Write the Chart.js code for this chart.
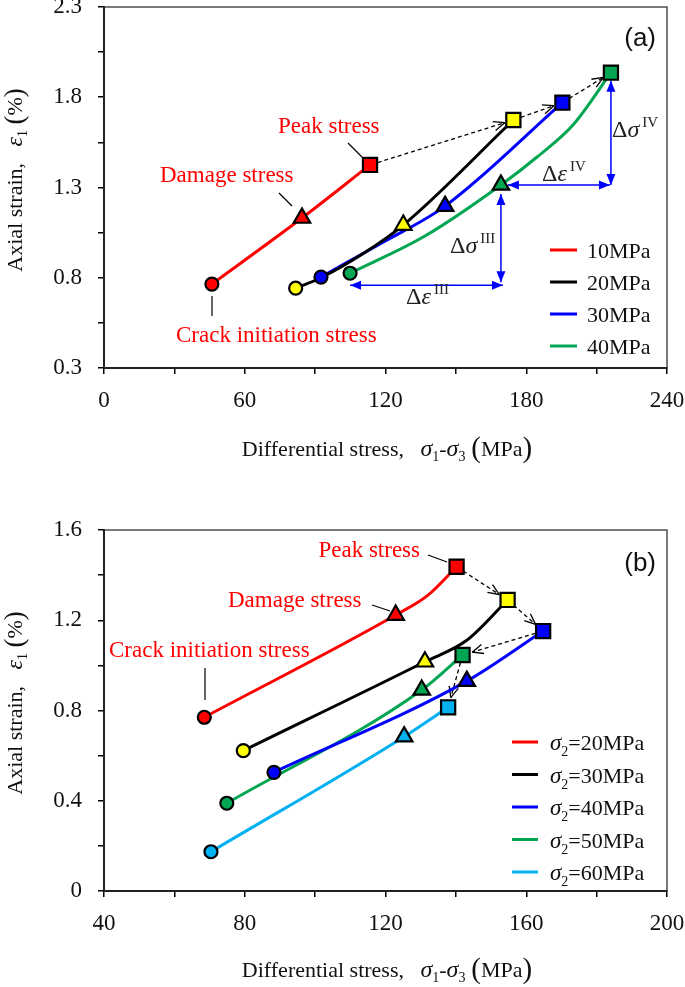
<!doctype html>
<html lang="en">

<head>
    <meta charset="utf-8">
    <title>Axial strain vs differential stress</title>
    <style>
        * {
            margin: 0;
            padding: 0;
        }

        body {
            width: 685px;
            height: 987px;
            overflow: hidden;
            background: #fff;
            position: relative;
        }

        .panel {
            position: absolute;
            left: 0;
            width: 720px;
        }

        #boxA {
            top: -40px;
            height: 530px;
        }

        #boxB {
            top: 490px;
            height: 497px;
        }
    </style>
</head>

<body>
    <div class="panel" id="boxA"><canvas id="chartA"></canvas></div>
    <div class="panel" id="boxB"><canvas id="chartB"></canvas></div>

    <script src="https://cdn.jsdelivr.net/npm/chart.js"></script>

    <script>
        // ---------- panel (a): 4 series ----------
        const aNames = ['10MPa', '20MPa', '30MPa', '40MPa'];
        const aLine = ['#ff0000', '#000000', '#0000ff', '#00a651'];
        const aFill = ['#ff0000', '#ffff00', '#0000ff', '#00a651'];

        const aStress10 = [46.0, 84.4, 113.4];
        const aStrain10 = [0.765, 1.131, 1.425];
        const aStress20 = [81.7, 92.5, 110.0, 127.6, 174.5];
        const aStrain20 = [0.742, 0.800, 0.930, 1.092, 1.674];
        const aStress30 = [92.5, 118.0, 145.4, 195.4];
        const aStrain30 = [0.804, 0.990, 1.197, 1.770];
        const aStress40 = [104.9, 136.8, 169.2, 184.6, 199.9, 216.1];
        const aStrain40 = [0.825, 1.031, 1.314, 1.469, 1.646, 1.936];

        // crack initiation / damage / peak stress points (one per series)
        const aCrackStress = [46.0, 81.7, 92.5, 104.9];
        const aCrackStrain = [0.765, 0.742, 0.804, 0.825];
        const aDamageStress = [84.4, 127.6, 145.4, 169.2];
        const aDamageStrain = [1.131, 1.092, 1.197, 1.314];
        const aPeakStress = [113.4, 174.5, 195.4, 216.1];
        const aPeakStrain = [1.425, 1.674, 1.770, 1.936];

        const aXTicks = [0, 30, 60, 90, 120, 150, 180, 210, 240];
        const aYTicks = [0.3, 0.55, 0.8, 1.05, 1.3, 1.55, 1.8, 2.05, 2.3];

        // ---------- panel (b): 5 series ----------
        const bNames = ['=20MPa', '=30MPa', '=40MPa', '=50MPa', '=60MPa'];
        const bLine = ['#ff0000', '#000000', '#0000ff', '#00a651', '#00b0f0'];
        const bFill = ['#ff0000', '#ffff00', '#0000ff', '#00a651', '#00b0f0'];

        const bStress20 = [68.5, 122.9, 132.0, 140.2];
        const bStrain20 = [0.770, 1.223, 1.310, 1.437];
        const bStress30 = [79.6, 131.2, 143.0, 154.7];
        const bStrain30 = [0.622, 1.016, 1.110, 1.290];
        const bStress40 = [88.3, 143.1, 164.8];
        const bStrain40 = [0.526, 0.930, 1.152];
        const bStress50 = [74.9, 130.3, 141.9];
        const bStrain50 = [0.389, 0.891, 1.046];
        const bStress60 = [70.4, 125.3, 137.8];
        const bStrain60 = [0.174, 0.684, 0.814];

        const bCrackStress = [68.5, 79.6, 88.3, 74.9, 70.4];
        const bCrackStrain = [0.770, 0.622, 0.526, 0.389, 0.174];
        const bDamageStress = [122.9, 131.2, 143.1, 130.3, 125.3];
        const bDamageStrain = [1.223, 1.016, 0.930, 0.891, 0.684];
        const bPeakStress = [140.2, 154.7, 164.8, 141.9, 137.8];
        const bPeakStrain = [1.437, 1.290, 1.152, 1.046, 0.814];

        const bXTicks = [40, 60, 80, 100, 120, 140, 160, 180, 200];
        const bYTicks = [0, 0.2, 0.4, 0.6, 0.8, 1.0, 1.2, 1.4, 1.6];

        const SERIF = '"Liberation Serif", "Times New Roman", serif';
        const SANS = '"Liberation Sans", Arial, sans-serif';

        const pts = (xs, ys) => xs.map((x, i) => ({ x: x, y: ys[i] }));

        function lineSet(xs, ys, color) {
            return {
                data: pts(xs, ys),
                showLine: true,
                borderColor: color,
                borderWidth: 3,
                pointRadius: 0,
                cubicInterpolationMode: 'monotone',
                order: 2
            };
        }

        function markSet(xs, ys, fills, style, r) {
            return {
                data: pts(xs, ys),
                showLine: false,
                pointStyle: style,
                pointRadius: r,
                pointBackgroundColor: fills,
                pointBorderColor: '#000',
                pointBorderWidth: 2.2,
                order: 0
            };
        }

        // draw a run of text pieces: [text, font, dy]
        function rich(ctx, parts, x, y, align) {
            let w = 0;
            parts.forEach(p => { ctx.font = p[1]; w += ctx.measureText(p[0]).width; });
            let cx = align === 'center' ? x - w / 2 : (align === 'right' ? x - w : x);
            ctx.textAlign = 'left';
            ctx.textBaseline = 'alphabetic';
            parts.forEach(p => {
                ctx.font = p[1];
                ctx.fillText(p[0], cx, y + (p[2] || 0));
                cx += ctx.measureText(p[0]).width;
            });
        }

        function seg(ctx, x1, y1, x2, y2) {
            ctx.beginPath();
            ctx.moveTo(x1, y1);
            ctx.lineTo(x2, y2);
            ctx.stroke();
        }

        function dashArrow(ctx, x1, y1, x2, y2, cut1, cut2) {
            const a = Math.atan2(y2 - y1, x2 - x1);
            const sx = x1 + Math.cos(a) * cut1, sy = y1 + Math.sin(a) * cut1;
            const ex = x2 - Math.cos(a) * cut2, ey = y2 - Math.sin(a) * cut2;
            ctx.save();
            ctx.strokeStyle = '#000';
            ctx.lineWidth = 1.3;
            ctx.setLineDash([4, 3]);
            seg(ctx, sx, sy, ex, ey);
            ctx.setLineDash([]);
            seg(ctx, ex, ey, ex - Math.cos(a - 0.4) * 12, ey - Math.sin(a - 0.4) * 12);
            seg(ctx, ex, ey, ex - Math.cos(a + 0.4) * 12, ey - Math.sin(a + 0.4) * 12);
            ctx.restore();
        }

        function head(ctx, x, y, a) {
            ctx.beginPath();
            ctx.moveTo(x, y);
            ctx.lineTo(x - Math.cos(a) * 11 - Math.sin(a) * 4.5, y - Math.sin(a) * 11 + Math.cos(a) * 4.5);
            ctx.lineTo(x - Math.cos(a) * 11 + Math.sin(a) * 4.5, y - Math.sin(a) * 11 - Math.cos(a) * 4.5);
            ctx.closePath();
            ctx.fill();
        }

        function dimArrow(ctx, x1, y1, x2, y2) {
            const a = Math.atan2(y2 - y1, x2 - x1);
            ctx.save();
            ctx.strokeStyle = '#0000ff';
            ctx.fillStyle = '#0000ff';
            ctx.lineWidth = 1.5;
            seg(ctx, x1, y1, x2, y2);
            head(ctx, x2, y2, a);
            head(ctx, x1, y1, a + Math.PI);
            ctx.restore();
        }

        function greekLabel(ctx, sym, sup, x, y) {
            ctx.fillStyle = '#222';
            rich(ctx, [['\u0394', '24px ' + SERIF], [sym, 'italic 24px ' + SERIF], ['\u2009' + sup, '15px ' + SERIF, -10]], x, y, 'left');
        }

        function frame(ctx, area) {
            ctx.save();
            ctx.strokeStyle = '#333';
            ctx.lineWidth = 1.3;
            ctx.strokeRect(area.left, area.top, area.right - area.left, area.bottom - area.top);
            ctx.restore();
        }

        function axisTitles(ctx, xBase, yMid) {
            ctx.fillStyle = '#111';
            rich(ctx, [
                ['Differential stress,   ', '22px ' + SERIF],
                ['\u03c3', 'italic 24px ' + SERIF], ['1', '14px ' + SERIF, 5],
                ['-', '22px ' + SERIF],
                ['\u03c3', 'italic 24px ' + SERIF], ['3', '14px ' + SERIF, 5],
                ['\u2009(', '29px ' + SERIF, 1],
                ['MPa', '22px ' + SERIF],
                [')', '29px ' + SERIF, 1]
            ], 387, xBase, 'center');
            ctx.save();
            ctx.translate(22, yMid);
            ctx.rotate(-Math.PI / 2);
            rich(ctx, [
                ['Axial strain,   ', '22px ' + SERIF],
                ['\u03b5', 'italic 24px ' + SERIF], ['1', '14px ' + SERIF, 5],
                ['\u2009(', '27px ' + SERIF, 1],
                ['%', '22px ' + SERIF],
                [')', '27px ' + SERIF, 1]
            ], 0, 0, 'center');
            ctx.restore();
        }

        function redLabel(ctx, txt, x, y, align) {
            ctx.fillStyle = '#ff0000';
            ctx.font = '23px ' + SERIF;
            ctx.textAlign = align;
            ctx.textBaseline = 'alphabetic';
            ctx.fillText(txt, x, y);
        }

        function leader(ctx, x1, y1, x2, y2) {
            ctx.save();
            ctx.strokeStyle = '#000';
            ctx.lineWidth = 1.2;
            seg(ctx, x1, y1, x2, y2);
            ctx.restore();
        }

        function makeChart(id, opts) {
            const datasets = [
                markSet(opts.crack[0], opts.crack[1], opts.fill, 'circle', 6.5),
                markSet(opts.damage[0], opts.damage[1], opts.fill, 'triangle', 9.5),
                markSet(opts.peak[0], opts.peak[1], opts.fill, 'rect', 10)
            ].concat(opts.lines.map((l, i) => lineSet(l[0], l[1], opts.colors[i])));

            const tickFont = { family: SERIF, size: 23 };
            return new Chart(document.getElementById(id), {
                type: 'scatter',
                data: { datasets },
                options: {
                    responsive: true,
                    maintainAspectRatio: false,
                    animation: false,
                    events: [],
                    layout: { padding: { top: opts.padTop, right: 53, bottom: 0, left: 0 } },
                    plugins: { legend: { display: false }, tooltip: { enabled: false } },
                    scales: {
                        x: {
                            type: 'linear',
                            min: opts.xTicks[0],
                            max: opts.xTicks[opts.xTicks.length - 1],
                            afterBuildTicks: s => { s.ticks = opts.xTicks.map(v => ({ value: v })); },
                            afterFit: s => { s.height = opts.xHeight; },
                            border: { display: true, color: '#000', width: 2 },
                            grid: { drawOnChartArea: false, drawTicks: true, tickLength: 6, color: '#000', lineWidth: 1.5 },
                            ticks: {
                                font: tickFont, color: '#111', padding: 13, maxRotation: 0, autoSkip: false,
                                callback: (v, i) => i % 2 === 0 ? String(v) : ''
                            }
                        },
                        y: {
                            type: 'linear',
                            min: opts.yTicks[0],
                            max: opts.yTicks[opts.yTicks.length - 1],
                            afterBuildTicks: s => { s.ticks = opts.yTicks.map(v => ({ value: v })); },
                            afterFit: s => { s.width = 104; },
                            border: { display: true, color: '#000', width: 2 },
                            grid: { drawOnChartArea: false, drawTicks: true, tickLength: 6, color: '#000', lineWidth: 1.5 },
                            ticks: {
                                font: tickFont, color: '#111', padding: 16, autoSkip: false,
                                callback: (v, i) => i % 2 === 0 ? (v === 0 ? '0' : v.toFixed(1)) : ''
                            }
                        }
                    }
                },
                plugins: [{
                    id: 'extras',
                    beforeDatasetsDraw(chart) {
                        const ctx = chart.ctx;
                        ctx.save();
                        opts.under(ctx, chart.scales.x, chart.scales.y);
                        ctx.restore();
                    },
                    afterDraw(chart) {
                        const ctx = chart.ctx;
                        ctx.save();
                        frame(ctx, chart.chartArea);
                        ctx.translate(0, -opts.offY);
                        opts.over(ctx);
                        ctx.restore();
                    }
                }]
            });
        }

        // ---------- panel (a) ----------
        makeChart('chartA', {
            offY: -40, padTop: 47, xHeight: 122,
            xTicks: aXTicks, yTicks: aYTicks,
            colors: aLine, fill: aFill,
            lines: [[aStress10, aStrain10], [aStress20, aStrain20], [aStress30, aStrain30], [aStress40, aStrain40]],
            crack: [aCrackStress, aCrackStrain],
            damage: [aDamageStress, aDamageStrain],
            peak: [aPeakStress, aPeakStrain],
            under(ctx, x, y) {
                // dashed arrows between successive peak points
                for (let i = 0; i < aPeakStress.length - 1; i++) {
                    dashArrow(ctx, x.getPixelForValue(aPeakStress[i]), y.getPixelForValue(aPeakStrain[i]),
                        x.getPixelForValue(aPeakStress[i + 1]), y.getPixelForValue(aPeakStrain[i + 1]), 8, 9);
                }
                // dimension arrows on the 40MPa curve
                const px = x.getPixelForValue(aPeakStress[3]), py = y.getPixelForValue(aPeakStrain[3]);
                const dx = x.getPixelForValue(aDamageStress[3]), dy = y.getPixelForValue(aDamageStrain[3]);
                const cx = x.getPixelForValue(aCrackStress[3]), cy = y.getPixelForValue(aCrackStrain[3]) + 12;
                dimArrow(ctx, px, py + 8, px, dy);
                dimArrow(ctx, dx + 7, dy, px - 1, dy);
                dimArrow(ctx, dx, dy + 9, dx, cy - 3);
                dimArrow(ctx, cx, cy, dx + 2, cy);
            },
            over(ctx) {
                axisTitles(ctx, 456, 180);
                ctx.fillStyle = '#111';
                ctx.font = '26px ' + SANS;
                ctx.textAlign = 'right';
                ctx.fillText('(a)', 656, 46);

                redLabel(ctx, 'Peak stress', 278, 133, 'left');
                redLabel(ctx, 'Damage stress', 160, 182, 'left');
                redLabel(ctx, 'Crack initiation stress', 176, 342, 'left');
                leader(ctx, 348, 143, 362, 157);
                leader(ctx, 279, 193, 292, 206);
                leader(ctx, 212, 296, 212, 316);

                greekLabel(ctx, '\u03c3', 'IV', 612, 137);
                greekLabel(ctx, '\u03b5', 'IV', 542, 181);
                greekLabel(ctx, '\u03c3', 'III', 450, 253);
                greekLabel(ctx, '\u03b5', 'III', 406, 304);

                aNames.forEach((n, i) => {
                    const ly = 250 + i * 32;
                    ctx.strokeStyle = aLine[i];
                    ctx.lineWidth = 3;
                    seg(ctx, 550, ly, 577, ly);
                    ctx.fillStyle = '#111';
                    rich(ctx, [[n, '22px ' + SERIF]], 587, ly + 8, 'left');
                });
            }
        });

        // ---------- panel (b) ----------
        makeChart('chartB', {
            offY: 490, padTop: 40, xHeight: 96,
            xTicks: bXTicks, yTicks: bYTicks,
            colors: bLine, fill: bFill,
            lines: [[bStress20, bStrain20], [bStress30, bStrain30], [bStress40, bStrain40], [bStress50, bStrain50], [bStress60, bStrain60]],
            crack: [bCrackStress, bCrackStrain],
            damage: [bDamageStress, bDamageStrain],
            peak: [bPeakStress, bPeakStrain],
            under(ctx, x, y) {
                for (let i = 0; i < bPeakStress.length - 1; i++) {
                    dashArrow(ctx, x.getPixelForValue(bPeakStress[i]), y.getPixelForValue(bPeakStrain[i]),
                        x.getPixelForValue(bPeakStress[i + 1]), y.getPixelForValue(bPeakStrain[i + 1]), 8, 10);
                }
            },
            over(ctx) {
                axisTitles(ctx, 977, 703);
                ctx.fillStyle = '#111';
                ctx.font = '26px ' + SANS;
                ctx.textAlign = 'right';
                ctx.fillText('(b)', 656, 571);

                redLabel(ctx, 'Peak stress', 420, 557, 'right');
                redLabel(ctx, 'Damage stress', 228, 607, 'left');
                redLabel(ctx, 'Crack initiation stress', 109, 657, 'left');
                leader(ctx, 428, 555, 447, 562);
                leader(ctx, 372, 605, 390, 611);
                leader(ctx, 205, 668, 205, 700);

                bNames.forEach((n, i) => {
                    const ly = 742 + i * 32.5;
                    ctx.strokeStyle = bLine[i];
                    ctx.lineWidth = 3;
                    seg(ctx, 512, ly, 538, ly);
                    ctx.fillStyle = '#111';
                    rich(ctx, [['\u03c3', 'italic 23px ' + SERIF], ['2', '14px ' + SERIF, 6], [n, '22px ' + SERIF]], 550, ly + 8, 'left');
                });
            }
        });
    </script>
</body>

</html>
